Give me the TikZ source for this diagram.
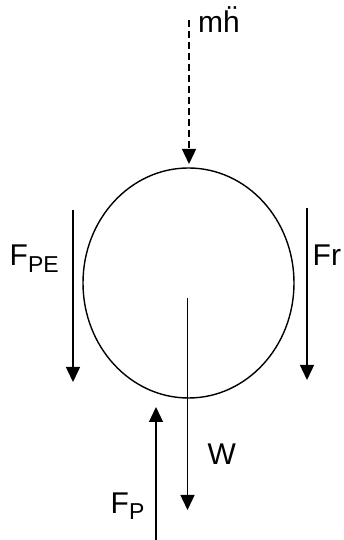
\documentclass[tikz,border=0pt]{standalone}
\usepackage{fontspec}
\setmainfont{Liberation Sans}
\usetikzlibrary{arrows.meta,shapes.geometric}
\newcommand{\subtxt}[1]{\raisebox{-7pt}{\fontsize{23}{23}\selectfont #1}}
\begin{document}
\begin{tikzpicture}[x=1pt,y=1pt,
  force/.style={line width=1.4pt,-{Triangle[width=14pt,length=15pt]}},
  lbl/.style={inner sep=0pt,anchor=base west,font=\fontsize{30}{30}\selectfont}]
\useasboundingbox (0,0) rectangle (343,540);
\node[ellipse,draw,line width=1.4pt,minimum width=211pt,minimum height=230pt,inner sep=0pt] (body) at (188.5,257) {};
% dashed inertial force
\coordinate (mtop) at (189,520);
\coordinate (mtip) at (189,376);
\draw[force,dash pattern=on 7pt off 4pt] (mtop) -- (mtip);
\node[lbl] (mlab) at (198,507) {mḧ};
% F_PE
\coordinate (pe1) at (73,330);
\coordinate (pe2) at (73,158);
\draw[force] (pe1) -- (pe2);
\node[lbl] (pelab) at (9.5,274) {F\subtxt{PE}};
% Fr
\coordinate (fr1) at (307,332);
\coordinate (fr2) at (307,160);
\draw[force] (fr1) -- (fr2);
\node[lbl] (frlab) at (312.5,274) {Fr};
% W
\coordinate (w1) at (187.5,242);
\coordinate (w2) at (187.5,30);
\draw[force] (w1) -- (w2);
\node[lbl] (wlab) at (207.5,75) {W};
% F_P
\coordinate (p1) at (156,0);
\coordinate (p2) at (156,133);
\draw[force] (p1) -- (p2);
\node[lbl] (plab) at (110.5,27) {F\subtxt{P}};
\end{tikzpicture}
\end{document}
